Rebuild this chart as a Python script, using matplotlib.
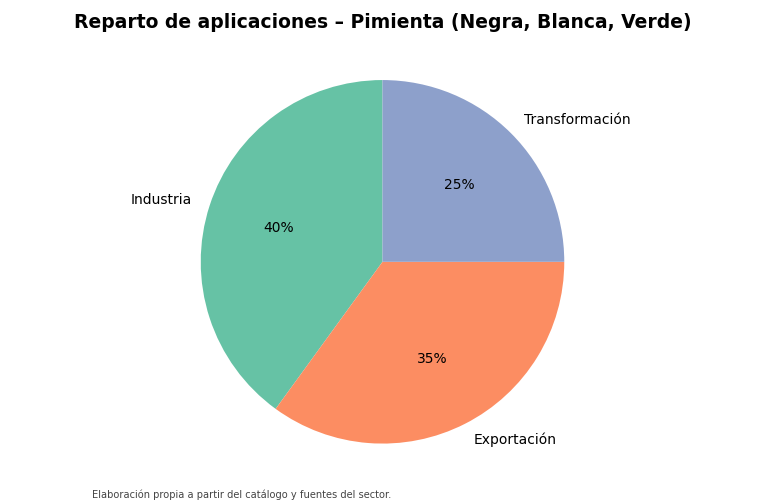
import matplotlib
matplotlib.use('Agg')
import matplotlib.pyplot as plt

categorias = ['Industria', 'Exportación', 'Transformación']
valores = [40, 35, 25]
colores = ['#66c2a5', '#fc8d62', '#8da0cb']

fig = plt.figure(figsize=(7.65, 5.03), dpi=100)
ax = fig.add_axes([0.0, 0.082, 1.0, 0.795])
ax.pie(valores, labels=categorias, colors=colores, autopct='%1.0f%%',
       startangle=90, textprops={'fontsize': 10})
ax.axis('equal')

fig.suptitle('Reparto de aplicaciones – Pimienta (Negra, Blanca, Verde)',
             fontsize=13.5, fontweight='bold', y=0.975)
fig.text(0.12, 0.005, 'Elaboración propia a partir del catálogo y fuentes del sector.',
         fontsize=7.15, color='#444444', ha='left', va='bottom')

fig.savefig('out.png', dpi=100)
